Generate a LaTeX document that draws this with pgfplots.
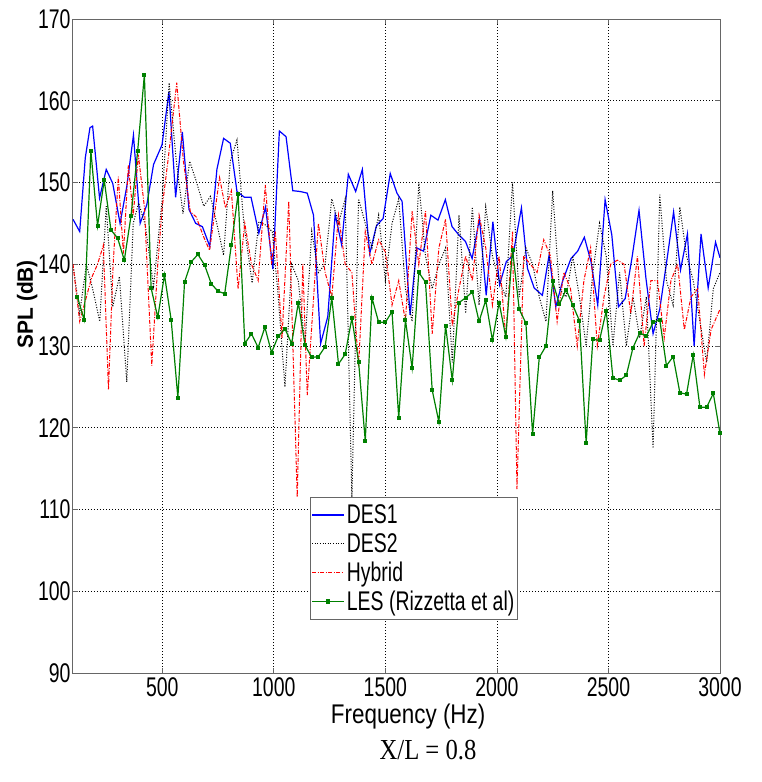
\documentclass[border=0pt]{standalone}
\usepackage{pgfplots}
\pgfplotsset{compat=1.18}
\usepackage{fontspec}
\setmainfont{Liberation Sans}[FakeStretch=0.72]
\newfontfamily\capfont{Liberation Serif}[FakeStretch=0.85]
\newfontfamily\labfont{Liberation Sans}[FakeStretch=0.95]
\newfontfamily\xlabfont{Liberation Sans}[FakeStretch=0.83]
\definecolor{mgreen}{RGB}{0,128,0}
\definecolor{mred}{RGB}{255,0,0}
\definecolor{mblue}{RGB}{0,0,255}
\begin{document}
\begin{tikzpicture}
\path[use as bounding box] (-73pt,-109pt) rectangle (688pt,673pt);
\begin{axis}[
  scale only axis, width=647pt, height=654pt,
  xmin=100, xmax=3000, ymin=90, ymax=170,
  xtick={500,1000,...,3000}, ytick={90,100,...,170},
  tick align=inside, major tick length=5pt,
  tick style={black!60, line width=0.6pt},
  axis line style={black!60, line width=1pt},
  grid=major, major grid style={black, line width=0.6pt, dash pattern=on 1pt off 2pt},
  /pgf/number format/assume math mode=true,
  /pgf/number format/1000 sep={},
  tick label style={font=\fontsize{27}{29}\selectfont},
  xticklabel style={yshift=-1pt},
  yticklabel style={xshift=1pt},
  xlabel={Frequency (Hz)},
  xlabel style={font=\xlabfont\fontsize{27}{29}\selectfont, at={(axis description cs:0.518,-0.066)}, anchor=center},
  ylabel={SPL (dB)},
  ylabel style={font=\labfont\bfseries\fontsize{22}{24}\selectfont, at={(axis description cs:-0.071,0.564)}, anchor=center},
  legend style={at={(axis description cs:0.366,0.269)}, anchor=north west,
    font=\fontsize{27}{29}\selectfont, draw=black!60, line width=1pt,
    inner xsep=1pt, inner ysep=5.5pt, row sep=4pt, cells={anchor=west}},
  legend image code/.code={\draw[mark repeat=2, mark phase=2, #1, line width=1.6pt] plot coordinates {(0pt,0pt) (16pt,0pt) (32pt,0pt)};},
]
\addplot[mblue, line width=1.2pt] coordinates {
(100,145.5)(130,144)(155,153)(176,156.7)(188,156.9)(219,148.1)(249,151.6)(278,149.9)(311,145.0)
(341,149.5)(371,155.8)(401,145.0)(431,147.3)(461,152.2)(499,154.6)(530,161.1)(560,148.2)
(590,156.2)(620,146.7)(650,145.0)(680,144.6)(713,142.2)(745,151.6)(775,155.4)(805,154.8)
(835,148.9)(868,148.2)(898,148.2)(933,143.8)(963,147.0)(996,139.4)(1025,156.3)(1055,155.6)
(1085,149.0)(1118,148.9)(1150,148.7)(1178,146.0)(1210,130.3)(1242,133.6)(1275,146.1)
(1304,142.4)(1334,151.0)(1367,148.9)(1397,151.6)(1430,141.3)(1460,144.7)(1490,145.6)
(1522,151.1)(1552,148.7)(1575,147.7)(1611,133.8)(1641,142.0)(1671,141.6)(1704,146.0)
(1736,145.4)(1769,147.9)(1799,144.6)(1829,143.6)(1859,142.8)(1889,140.7)(1922,145.6)
(1952,136.2)(1982,145.2)(2012,137.5)(2042,140.3)(2072,141.1)(2110,146.9)(2137,139.5)
(2167,137.1)(2204,136.2)(2234,141.1)(2264,134.8)(2294,137.9)(2332,140.7)(2362,141.6)
(2392,143.3)(2422,140.3)(2452,135.0)(2485,147.9)(2515,143.6)(2545,134.8)(2575,135.8)
(2605,140.7)(2637,146.6)(2668,138.3)(2700,131.5)(2730,134.5)(2763,140.7)(2792,146.4)
(2823,139.3)(2854,143.7)(2884,130.0)(2915,143.7)(2947,137.1)(2980,142.7)(3000,140.8)
};
\addlegendentry{DES1}
\addplot[black, line width=1pt, dash pattern=on 1pt off 1.6pt] coordinates {
(100,140)(130,134)(160,140)(188,137)(220,133)(249,147.1)(278,134.8)(308,138.5)(341,125.6)
(370,145)(394,147.5)(424,144.8)(461,137.3)(500,148)(531,162.2)(563,152.6)(593,146.2)
(623,152.6)(653,150.1)(686,147.1)(716,148.3)(746,144.8)(775,141.1)(805,152.6)(835,155.2)
(865,145.2)(903,137.7)(933,145.2)(963,144.8)(993,144)(1020,136)(1050,125)(1080,140)
(1110,138)(1140,130)(1170,144)(1200,139)(1230,140)(1260,148)(1290,145)(1320,148)
(1350,111.5)(1380,148)(1410,145)(1440,142)(1470,146)(1500,138)(1530,145)(1560,148)
(1590,137)(1620,133)(1650,150)(1680,141)(1710,137)(1740,140)(1770,142)(1800,128)
(1830,146)(1860,134)(1890,147)(1920,135)(1950,147)(1980,141)(2010,138)(2040,136)
(2070,150)(2100,136)(2130,142)(2160,140)(2190,136)(2220,133)(2250,149)(2280,137)
(2310,136)(2340,141)(2370,136)(2400,130)(2430,139)(2460,145)(2490,141)(2520,130)
(2550,139)(2580,130)(2610,136)(2640,131)(2670,136)(2700,117.5)(2730,148.5)(2760,138)
(2790,135)(2820,147)(2850,141)(2880,138)(2910,133)(2940,128)(2970,137)(3000,139)
};
\addlegendentry{DES2}
\addplot[mred, line width=1pt, dash pattern=on 4pt off 1.5pt on 1pt off 1.5pt] coordinates {
(100,140)(130,133)(184,138.4)(210,140)(236,142.3)(259,124.7)(280,140)(303,150.7)(326,141.3)
(348,152.1)(370,146)(393,153.4)(420,147)(453,127.6)(480,140)(500,147)(528,153.2)(565,162.2)
(595,152.6)(626,146.4)(652,145.8)(685,143.4)(712,141.7)(757,150.6)(783,146.9)(810,149)(840,137)
(870,145)(900,140)(930,138)(962,149.7)(990,140)(1007,144)(1037,131)(1067,147.7)(1105,111.5)
(1130,140)(1150,124)(1200,145)(1230,139)(1260,136)(1290,146)(1320,140)(1350,139)(1380,127.5)
(1410,144)(1440,140)(1470,143)(1500,141.5)(1530,135)(1560,138)(1590,133)(1620,146.5)
(1650,140)(1680,146.5)(1710,131.5)(1740,142)(1770,145.5)(1800,132.5)(1830,137)(1860,141)
(1890,138)(1920,146)(1950,142)(1980,135)(2010,141)(2040,131)(2070,144)(2090,112.5)
(2120,141)(2150,140)(2180,139)(2210,143)(2240,141)(2270,133)(2300,139)(2330,137)(2360,130)
(2390,138)(2420,142)(2450,130)(2480,136)(2510,140)(2540,140.5)(2570,140)(2600,134)
(2630,141)(2660,130)(2690,138)(2720,138)(2750,131)(2780,138)(2810,140)(2840,132)(2870,136)
(2900,137)(2930,126.5)(2960,132)(3000,134.5)
};
\addlegendentry{Hybrid}
\addplot[mgreen, line width=1.2pt, mark=square*, mark size=1.4pt, mark options={solid}] coordinates {
(120,136.0)(150,133.2)(180,153.9)(210,144.7)(240,150.3)(270,144.2)(300,143.2)(330,140.5)
(360,145.9)(390,153.9)(420,163.2)(450,137.1)(480,133.5)(510,138.7)(540,133.2)(570,123.7)
(600,137.8)(630,140.3)(660,141.2)(690,139.9)(720,137.6)(750,136.7)(780,136.4)(810,142.4)
(840,148.6)(870,130.3)(900,131.5)(930,129.8)(960,132.3)(990,129.2)(1020,131.2)(1050,132.1)
(1080,130.3)(1110,135.3)(1140,130.1)(1170,128.6)(1200,128.7)(1230,129.9)(1260,135.9)
(1290,127.8)(1320,129.0)(1350,133.4)(1380,128.1)(1410,118.4)(1440,135.9)(1470,132.9)
(1500,132.9)(1530,134.2)(1560,121.2)(1590,133.2)(1620,127.3)(1650,139.0)(1680,137.8)
(1710,124.6)(1740,120.7)(1770,132.5)(1800,125.8)(1830,135.3)(1860,135.9)(1890,136.6)
(1920,133.0)(1950,135.6)(1980,130.7)(2010,135.3)(2040,131.1)(2070,141.8)(2100,134.5)
(2130,132.8)(2160,119.2)(2190,128.6)(2220,130.0)(2250,137.9)(2280,135.1)(2310,136.9)
(2340,135.0)(2370,133.1)(2400,118.1)(2430,130.8)(2460,130.7)(2490,134.3)(2520,126.1)
(2550,125.8)(2580,126.4)(2610,129.8)(2640,131.6)(2670,131.2)(2700,132.9)(2730,133.2)
(2760,127.6)(2790,128.7)(2820,124.3)(2850,124.1)(2880,128.9)(2910,122.5)(2940,122.5)
(2970,124.2)(3000,119.3)
};
\addlegendentry{LES (Rizzetta et al)}
\end{axis}
\node[font=\capfont\fontsize{29}{31}\selectfont, anchor=center] at (355pt,-77pt) {X/L = 0.8};
\end{tikzpicture}
\end{document}
